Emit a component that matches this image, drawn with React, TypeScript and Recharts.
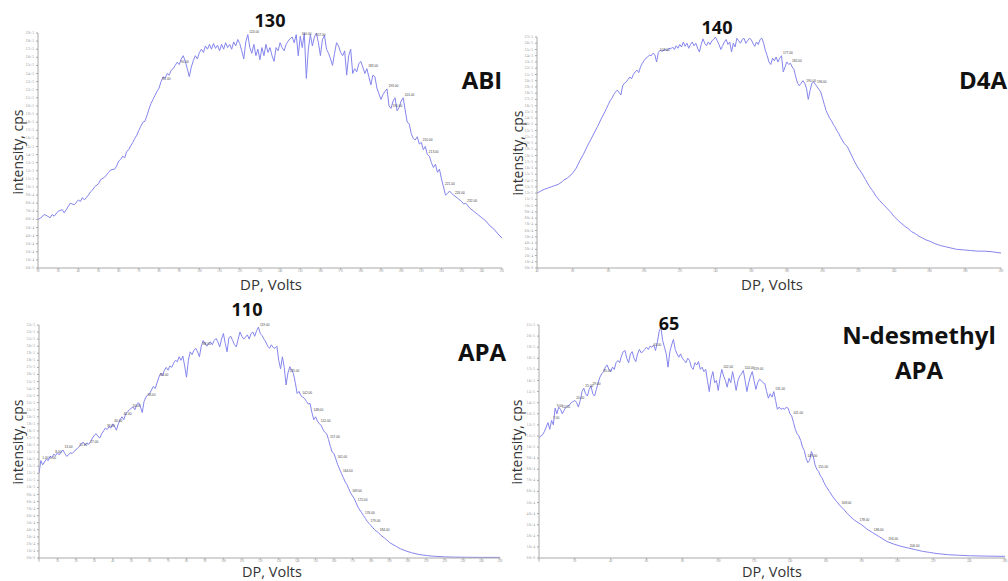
import React from 'react';
import { LineChart, Line, XAxis, YAxis } from 'recharts';

// ABI: DP (V) vs intensity (k cps)
const abiPoints: [number, number][] = [
  [20, 59.6], [22, 63], [23, 66], [24, 65], [26, 62], [27, 66], [28, 64], [30, 70], [32, 72], [33, 68],
  [35, 76], [36, 80], [38, 78], [40, 84], [41, 82], [42, 87], [43, 84], [45, 90], [46, 94], [47, 96],
  [48, 100], [50, 104], [51, 109], [53, 112], [55, 118], [56, 121], [58, 122], [59, 126], [60, 132], [61, 134],
  [62, 138], [63, 136], [64, 144], [65, 146], [66, 151], [67, 155], [68, 160], [69, 164], [70, 170], [71, 175],
  [72, 180], [73, 181], [74, 188], [75, 196], [76, 203], [77, 208], [78, 213], [79, 218], [80, 222], [81, 230],
  [82, 236], [83, 234], [84, 240], [85, 238], [86, 244], [87, 246], [88, 250], [89, 254], [90, 251], [91, 258],
  [92, 262], [93, 255], [94, 246], [95, 236], [96, 248], [97, 256], [98, 262], [99, 258], [100, 266], [101, 270],
  [102, 266], [103, 274], [104, 270], [105, 276], [106, 270], [107, 277], [108, 271], [109, 275], [110, 268], [111, 276],
  [112, 270], [113, 278], [114, 272], [115, 276], [116, 270], [117, 279], [118, 274], [119, 282], [120, 277], [121, 268],
  [122, 258], [123, 279], [124, 288], [125, 272], [126, 265], [127, 276], [128, 262], [129, 270], [130, 257], [131, 272],
  [132, 262], [133, 276], [134, 266], [135, 272], [136, 262], [137, 255], [138, 272], [139, 268], [140, 278], [141, 272],
  [142, 268], [143, 276], [144, 280], [145, 283], [146, 285], [147, 278], [148, 288], [149, 262], [150, 286], [151, 272],
  [152, 290], [153, 234], [154, 270], [155, 288], [156, 274], [157, 285], [158, 290], [159, 278], [160, 262], [161, 282],
  [162, 287], [163, 270], [164, 265], [165, 258], [166, 250], [167, 265], [168, 278], [169, 274], [170, 266], [171, 262],
  [172, 268], [173, 238], [174, 262], [175, 270], [176, 240], [177, 246], [178, 242], [179, 252], [180, 255], [181, 248],
  [182, 240], [183, 246], [184, 236], [185, 226], [186, 238], [187, 236], [188, 222], [189, 215], [190, 208], [191, 214],
  [192, 218], [193, 221], [194, 200], [195, 197], [196, 206], [197, 210], [198, 194], [199, 198], [200, 206], [201, 210],
  [202, 195], [203, 180], [204, 178], [205, 166], [206, 160], [207, 158], [208, 162], [209, 153], [210, 155], [211, 146],
  [212, 150], [213, 140], [214, 138], [215, 130], [216, 124], [217, 128], [218, 118], [219, 122], [220, 110], [221, 100],
  [222, 90], [223, 92], [224, 95], [225, 92], [226, 90], [228, 86], [230, 82], [231, 79], [232, 80], [234, 74],
  [236, 70], [238, 66], [240, 62], [242, 58], [244, 52], [246, 48], [248, 42], [250, 37],
];
const abiXTicks = [20, 30, 40, 50, 60, 70, 80, 90, 100, 110, 120, 130, 140, 150, 160, 170, 180, 190, 200, 210, 220, 230, 240, 250];
const abiPeakLabels = [81, 90, 124, 150, 157, 183, 193, 195, 201, 210, 213, 221, 226, 232];

// D4A
const d4aPoints: [number, number][] = [
  [40, 120], [42, 123], [44, 126], [46, 128], [48, 130], [50, 132], [52, 134], [54, 138], [55, 141], [57, 144],
  [59, 149], [60, 152], [62, 160], [63, 166], [64, 172], [66, 182], [68, 194], [70, 205], [72, 216], [74, 227],
  [76, 239], [78, 250], [79, 256], [80, 262], [81, 268], [82, 272], [83, 278], [84, 282], [85, 285], [86, 281],
  [87, 277], [88, 292], [89, 296], [90, 298], [91, 302], [92, 306], [93, 303], [94, 310], [95, 314], [96, 317],
  [97, 313], [98, 322], [99, 328], [100, 332], [101, 336], [102, 338], [103, 341], [104, 340], [105, 344], [106, 342],
  [107, 330], [108, 345], [109, 349], [110, 347], [112, 350], [113, 348], [114, 352], [115, 351], [116, 354], [117, 350],
  [118, 356], [119, 352], [120, 358], [121, 354], [122, 362], [123, 355], [124, 360], [125, 352], [126, 358], [127, 362],
  [128, 356], [129, 360], [130, 352], [131, 346], [132, 358], [133, 367], [134, 360], [135, 356], [136, 362], [137, 358],
  [138, 364], [139, 366], [140, 370], [141, 364], [142, 358], [143, 350], [144, 356], [145, 362], [146, 366], [147, 358],
  [148, 362], [149, 346], [150, 360], [151, 354], [152, 368], [153, 364], [154, 360], [155, 366], [156, 368], [157, 360],
  [158, 364], [159, 368], [160, 366], [161, 360], [162, 355], [163, 362], [164, 358], [165, 366], [166, 368], [167, 360],
  [168, 348], [169, 340], [170, 330], [171, 326], [172, 336], [173, 332], [174, 338], [175, 330], [176, 336], [177, 340],
  [178, 314], [179, 322], [180, 330], [181, 326], [182, 328], [183, 322], [184, 318], [185, 306], [186, 296], [187, 292],
  [188, 296], [189, 300], [190, 296], [191, 288], [192, 270], [193, 284], [194, 296], [195, 298], [196, 294], [197, 290],
  [198, 286], [199, 282], [200, 272], [201, 262], [202, 252], [203, 246], [204, 240], [205, 236], [206, 230], [207, 226],
  [208, 220], [209, 216], [210, 210], [212, 200], [214, 194], [216, 182], [217, 176], [218, 170], [220, 160], [222, 152],
  [224, 142], [226, 132], [228, 124], [230, 115], [232, 108], [234, 102], [236, 96], [238, 90], [240, 83], [242, 77],
  [244, 72], [246, 67], [248, 63], [250, 58], [252, 55], [254, 51], [256, 48], [258, 45], [260, 43], [263, 39],
  [266, 36], [269, 34], [272, 32], [275, 30], [279, 29], [283, 28], [287, 27], [291, 27], [295, 26], [300, 24],
];
const d4aXTicks = [40, 60, 80, 100, 120, 140, 160, 180, 200, 220, 240, 260, 280, 300];
const d4aPeakLabels = [108, 177, 182, 190, 196];

// APA
const apaPoints: [number, number][] = [
  [0, 120], [1, 138], [2, 132], [3, 136], [4, 140], [5, 138], [6, 144], [7, 142], [8, 147], [9, 145],
  [10, 149], [11, 146], [12, 150], [13, 153], [14, 148], [15, 144], [16, 146], [17, 149], [18, 148], [19, 151],
  [20, 153], [21, 156], [22, 158], [23, 162], [24, 164], [25, 160], [26, 163], [27, 161], [28, 165], [29, 170],
  [30, 174], [31, 176], [32, 172], [33, 170], [34, 176], [35, 180], [36, 184], [37, 182], [38, 186], [39, 184],
  [40, 190], [41, 186], [42, 181], [43, 190], [44, 196], [45, 200], [46, 196], [47, 204], [48, 207], [49, 210],
  [50, 212], [51, 214], [52, 210], [53, 217], [54, 220], [55, 214], [56, 206], [57, 222], [58, 228], [59, 231],
  [60, 233], [61, 238], [62, 243], [63, 240], [64, 248], [65, 256], [66, 262], [67, 258], [68, 266], [69, 270],
  [70, 266], [71, 272], [72, 270], [73, 276], [74, 280], [75, 278], [76, 285], [77, 280], [78, 286], [79, 272],
  [80, 256], [81, 280], [82, 292], [83, 288], [84, 294], [85, 297], [86, 292], [87, 285], [88, 300], [89, 308],
  [90, 304], [91, 300], [92, 304], [93, 306], [94, 302], [95, 308], [96, 311], [97, 306], [98, 299], [99, 310],
  [100, 318], [101, 304], [102, 292], [103, 312], [104, 314], [105, 308], [106, 302], [107, 299], [108, 310], [109, 320],
  [110, 314], [111, 310], [112, 313], [113, 316], [114, 310], [115, 318], [116, 320], [117, 314], [118, 322], [119, 327],
  [120, 318], [121, 315], [122, 310], [123, 306], [124, 300], [125, 297], [126, 302], [127, 298], [128, 297], [129, 300],
  [130, 280], [131, 268], [132, 285], [133, 270], [134, 245], [135, 262], [136, 271], [137, 266], [138, 261], [139, 248],
  [140, 233], [141, 236], [142, 230], [143, 228], [144, 226], [145, 222], [146, 218], [147, 219], [148, 206], [149, 196],
  [150, 200], [151, 194], [152, 190], [153, 188], [154, 182], [155, 178], [156, 176], [157, 168], [158, 158], [159, 150],
  [160, 148], [161, 140], [162, 132], [163, 126], [164, 120], [165, 114], [166, 108], [167, 104], [168, 98], [169, 92],
  [170, 88], [171, 84], [172, 78], [173, 72], [174, 68], [175, 64], [176, 60], [177, 56], [178, 52], [179, 49],
  [180, 46], [182, 40], [184, 36], [186, 31], [188, 27], [190, 22], [192, 19], [194, 16], [196, 13], [199, 10],
  [202, 7.5], [206, 5], [210, 3.5], [214, 2.5], [220, 1.6], [226, 1.2], [232, 1], [240, 0.9], [250, 0.9],
];
const apaXTicks = [0, 10, 20, 30, 40, 50, 60, 70, 80, 90, 100, 110, 120, 130, 140, 150, 160, 170, 180, 190, 200, 210, 220, 230, 240, 250];
const apaPeakLabels = [1, 5, 8, 13, 21, 27, 36, 40, 45, 50, 58, 65, 88, 119, 135, 142, 148, 152, 157, 161, 164, 169, 172, 176, 179, 184];

// N-desmethyl APA
const ndmPoints: [number, number][] = [
  [0, 108], [1, 110], [2, 111], [3, 114], [4, 118], [5, 122], [6, 116], [7, 124], [8, 120], [9, 135],
  [10, 130], [11, 136], [12, 134], [13, 130], [14, 133], [15, 136], [16, 137], [17, 138], [18, 140], [19, 141],
  [20, 142], [21, 140], [22, 136], [23, 142], [24, 150], [25, 153], [26, 148], [27, 146], [28, 152], [29, 155],
  [30, 148], [31, 146], [32, 152], [33, 158], [34, 163], [35, 166], [36, 168], [37, 172], [38, 174], [39, 170],
  [40, 168], [41, 172], [42, 170], [43, 176], [44, 178], [45, 176], [46, 182], [47, 186], [48, 187], [49, 180],
  [50, 176], [51, 184], [52, 186], [53, 180], [54, 177], [55, 184], [56, 188], [57, 185], [58, 186], [59, 188],
  [60, 190], [61, 188], [62, 191], [63, 190], [64, 192], [65, 187], [66, 194], [67, 204], [68, 208], [69, 196],
  [70, 190], [71, 184], [72, 172], [73, 186], [74, 192], [75, 197], [76, 188], [77, 184], [78, 181], [79, 184],
  [80, 180], [81, 178], [82, 176], [83, 180], [84, 178], [85, 172], [86, 170], [87, 176], [88, 174], [89, 177],
  [90, 170], [91, 172], [92, 168], [93, 170], [94, 160], [95, 150], [96, 162], [97, 168], [98, 158], [99, 160],
  [100, 151], [101, 162], [102, 170], [103, 164], [104, 160], [105, 154], [106, 162], [107, 158], [108, 168], [109, 160],
  [110, 151], [111, 160], [112, 164], [113, 166], [114, 169], [115, 160], [116, 150], [117, 158], [118, 164], [119, 168],
  [120, 160], [121, 152], [122, 158], [123, 161], [124, 160], [125, 158], [126, 157], [127, 150], [128, 144], [129, 148],
  [130, 145], [131, 150], [132, 142], [133, 134], [134, 136], [135, 134], [136, 135], [137, 134], [138, 136], [139, 135],
  [140, 130], [141, 128], [142, 122], [143, 116], [144, 112], [145, 110], [146, 106], [147, 100], [148, 97], [149, 90],
  [150, 86], [151, 88], [152, 96], [153, 92], [154, 84], [155, 80], [156, 78], [157, 74], [158, 72], [159, 68],
  [160, 65], [162, 60], [164, 55], [166, 51], [168, 47], [170, 44], [172, 40], [174, 37], [176, 34], [178, 32],
  [180, 30], [183, 26], [186, 23], [190, 19], [194, 15], [198, 12.5], [202, 10.5], [206, 9], [210, 7.5], [214, 6],
  [218, 5], [222, 4], [228, 3], [234, 2.5], [240, 2], [250, 1.7], [260, 1.5],
];
const ndmXTicks = [0, 20, 40, 60, 80, 100, 120, 140, 160, 180, 200, 220, 240, 260];
const ndmPeakLabels = [7, 9, 12, 20, 25, 29, 35, 63, 102, 114, 119, 131, 141, 149, 155, 168, 178, 186, 194, 206];

const LINE = '#8585ee';
const AXIS = '#a8a8a8';
const FONT = '"Open Sans", sans-serif';

function yTicks(max: number, step: number): number[] {
  const t: number[] = [];
  for (let v = 0; v <= max + 0.001; v += step) t.push(v);
  return t;
}

type PanelProps = {
  left: number;
  top: number;
  points: [number, number][];
  peaks: number[];
  xDomain: [number, number];
  xTicks: number[];
  yMax: number;
  yStep: number;
  yWidth: number;
  marginTop: number;
  marginRight: number;
};

function Panel(p: PanelProps) {
  const data = p.points.map(([x, y]) => ({ x, y }));
  const renderPeak = (props: any) => {
    const { x, y, index } = props;
    const d = data[index];
    if (!d || !p.peaks.includes(d.x)) return null;
    return (
      <text key={`pk-${index}`} x={x + 1.5} y={y - 1.5} fontSize={3.2} fill="#444" fontFamily="Arial, sans-serif">
        {d.x.toFixed(2)}
      </text>
    );
  };
  return (
    <div style={{ position: 'absolute', left: p.left, top: p.top }}>
      <LineChart
        width={504}
        height={280}
        data={data}
        margin={{ top: p.marginTop, right: p.marginRight, left: 0, bottom: 0 }}
      >
        <XAxis
          dataKey="x"
          type="number"
          domain={p.xDomain}
          ticks={p.xTicks}
          interval={0}
          height={12}
          tickSize={1.5}
          stroke={AXIS}
          tick={{ fontSize: 3, fill: '#888', dy: -2 }}
          allowDataOverflow
        />
        <YAxis
          type="number"
          domain={[0, p.yMax]}
          ticks={yTicks(p.yMax, p.yStep)}
          interval={0}
          width={p.yWidth}
          tickSize={2}
          stroke={AXIS}
          tick={{ fontSize: 3, fill: '#888' }}
          tickFormatter={(v: number) => (v * 1000).toExponential(1)}
          allowDataOverflow
        />
        <Line
          type="linear"
          dataKey="y"
          stroke={LINE}
          strokeWidth={1}
          dot={false}
          label={renderPeak}
          isAnimationActive={false}
        />
      </LineChart>
    </div>
  );
}

function Txt({ x, y, size, bold, children, rotate }: { x: number; y: number; size: number; bold?: boolean; children: React.ReactNode; rotate?: boolean }) {
  return (
    <div
      style={{
        position: 'absolute',
        left: x,
        top: y,
        transform: `translate(-50%, -50%)${rotate ? ' rotate(-90deg)' : ''}`,
        fontFamily: FONT,
        fontSize: size,
        fontWeight: bold ? 700 : 400,
        color: bold ? '#111' : '#333',
        whiteSpace: 'nowrap',
        lineHeight: 1,
        textAlign: 'center',
      }}
    >
      {children}
    </div>
  );
}

export default function App() {
  return (
    <div style={{ position: 'absolute', left: 0, top: 0, width: 1008, height: 581, background: '#fff', overflow: 'hidden' }}>
      <Panel left={0} top={0} points={abiPoints} peaks={abiPeakLabels} xDomain={[20, 250]} xTicks={abiXTicks} yMax={290} yStep={10} yWidth={38} marginTop={33} marginRight={2} />
      <Panel left={504} top={0} points={d4aPoints} peaks={d4aPeakLabels} xDomain={[40, 300]} xTicks={d4aXTicks} yMax={370} yStep={10} yWidth={33} marginTop={37} marginRight={7} />
      <Panel left={0} top={290} points={apaPoints} peaks={apaPeakLabels} xDomain={[0, 250]} xTicks={apaXTicks} yMax={330} yStep={10} yWidth={39} marginTop={35} marginRight={4} />
      <Panel left={504} top={290} points={ndmPoints} peaks={ndmPeakLabels} xDomain={[0, 260]} xTicks={ndmXTicks} yMax={210} yStep={10} yWidth={35} marginTop={35} marginRight={3} />

      <Txt x={270} y={20} size={18} bold>130</Txt>
      <Txt x={482} y={80} size={24} bold>ABI</Txt>
      <Txt x={18} y={152} size={14} rotate>intensity, cps</Txt>
      <Txt x={271} y={284} size={15}>DP, Volts</Txt>

      <Txt x={717} y={27} size={18} bold>140</Txt>
      <Txt x={983} y={80} size={24} bold>D4A</Txt>
      <Txt x={518} y={153} size={14} rotate>intensity, cps</Txt>
      <Txt x={772} y={284} size={15}>DP, Volts</Txt>

      <Txt x={247} y={309} size={18} bold>110</Txt>
      <Txt x={482} y={352} size={24} bold>APA</Txt>
      <Txt x={18} y={442} size={14} rotate>intensity, cps</Txt>
      <Txt x={272} y={572} size={14.5}>DP, Volts</Txt>

      <Txt x={669} y={323} size={18} bold>65</Txt>
      <Txt x={919} y={335} size={24} bold>N-desmethyl</Txt>
      <Txt x={919} y={370} size={24} bold>APA</Txt>
      <Txt x={517} y={442} size={14} rotate>intensity, cps</Txt>
      <Txt x={772} y={572} size={14.5}>DP, Volts</Txt>
    </div>
  );
}
